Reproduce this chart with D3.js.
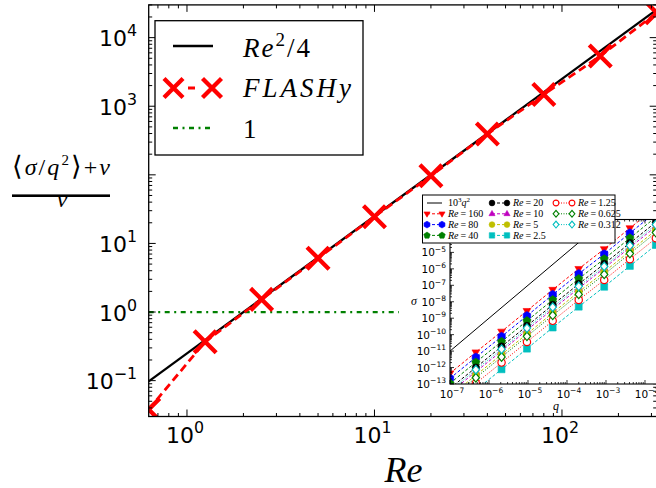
<!DOCTYPE html>
<html>
<head>
<meta charset="utf-8">
<script src="https://cdn.jsdelivr.net/npm/d3@7"></script>
<style>
  body { margin: 0; background: #fff; }
  svg { display: block; }
</style>
</head>
<body>
<svg id="chart" width="656" height="488"></svg>
<script>
// ---------- main panel data ----------
const reValues     = [0.625, 1.25, 2.5, 5, 10, 20, 40, 80, 160, 320];
const flashyValues = [0.038, 0.369, 1.53, 6.1, 24.5, 97, 395, 1480, 5400, 23000];
// Re^2/4 reference line (straight in log-log, given by its end points)
const refRe        = [0.625, 320];
const refValues    = [0.09765625, 25600];
// constant 1 line
const unityRe      = [0.625, 13.5];
const unityValues  = [1, 1];
const mainXLabels  = [1, 10, 100];
const mainYLabels  = [0.1, 1, 10, 1000, 10000];

// ---------- inset data: sigma(q) for each Re ----------
const qValues   = [1e-7, 4.6e-7, 2.1e-6, 9.4e-6, 4.3e-5, 2.0e-4, 9.0e-4, 4.1e-3, 1.9e-2];
const insetRe   = ["160", "80", "40", "20", "10", "5", "2.5", "1.25", "0.625", "0.312"];
const sigma160  = [4.5e-13, 8.5e-12, 1.55e-10, 2.8e-9, 5.4e-8, 1.0e-6, 1.6e-5, 3.0e-4, 5.6e-3];
const sigma80   = [2.2e-13, 4.2e-12, 7.7e-11, 1.4e-9, 2.7e-8, 5.0e-7, 8.0e-6, 1.5e-4, 2.8e-3];
const sigma40   = [1.1e-13, 2.1e-12, 3.8e-11, 6.9e-10, 1.3e-8, 2.5e-7, 4.0e-6, 7.4e-5, 1.4e-3];
const sigma20   = [5.4e-14, 1.0e-12, 1.9e-11, 3.4e-10, 6.5e-9, 1.2e-7, 2.0e-6, 3.7e-5, 6.8e-4];
const sigma10   = [3.0e-14, 5.6e-13, 1.0e-11, 1.9e-10, 3.5e-9, 6.6e-8, 1.1e-6, 2.0e-5, 3.7e-4];
const sigma5    = [1.8e-14, 3.4e-13, 6.2e-12, 1.1e-10, 2.1e-9, 4.0e-8, 6.5e-7, 1.2e-5, 2.2e-4];
const sigma2p5  = [2.2e-15, 4.3e-14, 7.8e-13, 1.4e-11, 2.7e-10, 5.0e-9, 8.1e-8, 1.5e-6, 2.8e-5];
const sigma1p25 = [5.8e-15, 1.1e-13, 2.0e-12, 3.6e-11, 6.9e-10, 1.3e-8, 2.1e-7, 3.9e-6, 7.2e-5];
const sigma0p625= [1.3e-14, 2.4e-13, 4.4e-12, 7.9e-11, 1.5e-9, 2.8e-8, 4.6e-7, 8.5e-6, 1.6e-4];
const sigma0p312= [3.9e-14, 7.4e-13, 1.3e-11, 2.5e-10, 4.7e-9, 8.7e-8, 1.4e-6, 2.6e-5, 4.9e-4];
const insetSigma = [sigma160, sigma80, sigma40, sigma20, sigma10, sigma5, sigma2p5, sigma1p25, sigma0p625, sigma0p312];
// 10^3 q^2 reference line end points
const insetRefQ     = [1e-7, 1e-2];
const insetRefSigma = [1e-11, 1e-1];

// ---------- styles ----------
const insetStyles = [
  { color: "#ff0000", marker: "v", dash: "3,2",   open: false },
  { color: "#0000ff", marker: "h", dash: "3,2",   open: false },
  { color: "#008000", marker: "p", dash: "3,2",   open: false },
  { color: "#000000", marker: "o", dash: "3,2",   open: false },
  { color: "#bf00bf", marker: "^", dash: "3,2",   open: false },
  { color: "#bfbf00", marker: "o", dash: "3,2",   open: false },
  { color: "#00bfbf", marker: "s", dash: "3,2",   open: false },
  { color: "#ff0000", marker: "o", dash: "1,1.5", open: true },
  { color: "#008000", marker: "D", dash: "1,1.5", open: true },
  { color: "#00bfbf", marker: "D", dash: "1,1.5", open: true }
];

const SANS = "'DejaVu Sans', 'Bitstream Vera Sans', sans-serif";
const SERIF = "'Liberation Serif', 'DejaVu Serif', serif";

const svg = d3.select("#chart");
svg.append("rect").attr("width", 656).attr("height", 488).attr("fill", "#fff");

// ---------- helpers ----------
function logTicks(lo, hi) {
  const out = [];
  for (let e = Math.floor(Math.log10(lo)) - 1; e <= Math.ceil(Math.log10(hi)); e++) {
    for (let m = 1; m < 10; m++) {
      const v = m * Math.pow(10, e);
      if (v >= lo * 0.9999 && v <= hi * 1.0001) out.push({ v, major: m === 1 });
    }
  }
  return out;
}

function drawFrameTicks(g, xs, ys, majLen, minLen, sw) {
  const [x0, x1] = xs.range();
  const [y0, y1] = ys.range(); // y0 bottom, y1 top
  const xd = xs.domain(), yd = ys.domain();
  logTicks(xd[0], xd[1]).forEach(t => {
    const px = xs(t.v), L = t.major ? majLen : minLen;
    g.append("line").attr("x1", px).attr("x2", px).attr("y1", y0).attr("y2", y0 - L)
      .attr("stroke", "#000").attr("stroke-width", sw);
    g.append("line").attr("x1", px).attr("x2", px).attr("y1", y1).attr("y2", y1 + L)
      .attr("stroke", "#000").attr("stroke-width", sw);
  });
  logTicks(yd[0], yd[1]).forEach(t => {
    const py = ys(t.v), L = t.major ? majLen : minLen;
    g.append("line").attr("x1", x0).attr("x2", x0 + L).attr("y1", py).attr("y2", py)
      .attr("stroke", "#000").attr("stroke-width", sw);
    g.append("line").attr("x1", x1).attr("x2", x1 - L).attr("y1", py).attr("y2", py)
      .attr("stroke", "#000").attr("stroke-width", sw);
  });
  g.append("rect").attr("x", x0).attr("y", y1).attr("width", x1 - x0).attr("height", y0 - y1)
    .attr("fill", "none").attr("stroke", "#000").attr("stroke-width", sw + 0.3);
}

function powLabel(g, x, y, v, size, anchor) {
  const e = Math.round(Math.log10(v));
  const t = g.append("text").attr("x", x).attr("y", y).attr("font-family", SANS)
    .attr("font-size", size).attr("text-anchor", anchor).attr("fill", "#000");
  t.append("tspan").text("10");
  t.append("tspan").attr("dy", -0.45 * size).attr("font-size", size * 0.72)
    .text(e < 0 ? "\u2212" + (-e) : String(e));
}

function markerPath(type, r) {
  const poly = pts => "M" + pts.map(p => p[0].toFixed(2) + "," + p[1].toFixed(2)).join("L") + "Z";
  const ngon = (n, rad, rot) => d3.range(n).map(i => {
    const a = rot + i * 2 * Math.PI / n;
    return [rad * Math.cos(a), rad * Math.sin(a)];
  });
  switch (type) {
    case "v": return poly([[0, r], [-0.9 * r, -0.55 * r], [0.9 * r, -0.55 * r]]);
    case "^": return poly([[0, -r], [-0.9 * r, 0.55 * r], [0.9 * r, 0.55 * r]]);
    case "s": return poly([[-0.8 * r, -0.8 * r], [0.8 * r, -0.8 * r], [0.8 * r, 0.8 * r], [-0.8 * r, 0.8 * r]]);
    case "h": return poly(ngon(6, r, -Math.PI / 2));
    case "p": return poly(ngon(5, r, -Math.PI / 2));
    case "D": return poly([[0, -r], [0.85 * r, 0], [0, r], [-0.85 * r, 0]]);
    default: {
      const rr = 0.85 * r;
      return `M${rr},0A${rr},${rr} 0 1,1 ${-rr},0A${rr},${rr} 0 1,1 ${rr},0Z`;
    }
  }
}

const defs = svg.append("defs");

// ---------- main panel ----------
const x = d3.scaleLog().domain([0.625, 320]).range([148.7, 656.7]);
const y = d3.scaleLog().domain([0.03, 3e4]).range([416.5, 4.9]);

defs.append("clipPath").attr("id", "mainClip").append("rect")
  .attr("x", x.range()[0]).attr("y", y.range()[1])
  .attr("width", x.range()[1] - x.range()[0]).attr("height", y.range()[0] - y.range()[1]);

const main = svg.append("g");
const plot = main.append("g").attr("clip-path", "url(#mainClip)");

const line = d3.line().x(d => x(d[0])).y(d => y(d[1]));

plot.append("path").datum(d3.zip(unityRe, unityValues)).attr("d", line)
  .attr("fill", "none").attr("stroke", "#008000").attr("stroke-width", 2.3)
  .attr("stroke-dasharray", "5,4.5,2,4.5");

plot.append("path").datum(d3.zip(refRe, refValues)).attr("d", line)
  .attr("fill", "none").attr("stroke", "#000").attr("stroke-width", 2.3);

plot.append("path").datum(d3.zip(reValues, flashyValues)).attr("d", line)
  .attr("fill", "none").attr("stroke", "#ff0000").attr("stroke-width", 2.8)
  .attr("stroke-dasharray", "8,4.5");

function xMark(g, cx, cy, h, sw) {
  g.append("path").attr("d", `M${cx - h},${cy - h}L${cx + h},${cy + h}M${cx - h},${cy + h}L${cx + h},${cy - h}`)
    .attr("stroke", "#ff0000").attr("stroke-width", sw).attr("fill", "none");
}
d3.zip(reValues, flashyValues).forEach(d => xMark(plot, x(d[0]), y(d[1]), 11, 4.3));

drawFrameTicks(main, x, y, 7, 3.5, 1);

mainYLabels.forEach(v => powLabel(main, 137, y(v) + 8.5, v, 22, "end"));
mainXLabels.forEach(v => powLabel(main, x(v) - 2, 443, v, 22, "middle"));

// axis titles
main.append("text").attr("x", 403.5).attr("y", 481.5).attr("text-anchor", "middle")
  .attr("font-family", SERIF).attr("font-style", "italic").attr("font-size", 36).text("Re");

const num = main.append("text").attr("x", 12).attr("y", 175).attr("font-family", SERIF)
  .attr("font-size", 24).attr("textLength", 98).attr("lengthAdjust", "spacing");
num.append("tspan").attr("font-size", 27).text("\u27E8");
num.append("tspan").attr("font-style", "italic").text("\u03C3");
num.append("tspan").text("/");
num.append("tspan").attr("font-style", "italic").text("q");
num.append("tspan").attr("dy", -10).attr("font-size", 15).text("2");
num.append("tspan").attr("dy", 10).attr("font-size", 27).text("\u27E9");
num.append("tspan").text("+");
num.append("tspan").attr("font-style", "italic").text("\u03BD");
main.append("rect").attr("x", 12).attr("y", 194.4).attr("width", 98).attr("height", 2.6).attr("fill", "#000");
main.append("text").attr("x", 62).attr("y", 206.5).attr("text-anchor", "middle").attr("font-family", SERIF)
  .attr("font-style", "italic").attr("font-size", 24).text("\u03BD");

// main legend
const leg = main.append("g");
leg.append("rect").attr("x", 155).attr("y", 20.7).attr("width", 208).attr("height", 134.3)
  .attr("fill", "#fff").attr("stroke", "#000").attr("stroke-width", 1.3);
leg.append("line").attr("x1", 173).attr("x2", 213).attr("y1", 46).attr("y2", 46)
  .attr("stroke", "#000").attr("stroke-width", 2.3);
leg.append("line").attr("x1", 173.5).attr("x2", 212).attr("y1", 88).attr("y2", 88)
  .attr("stroke", "#ff0000").attr("stroke-width", 2.8).attr("stroke-dasharray", "0,14.5,7,20");
xMark(leg, 173.5, 88, 9.5, 4.3);
xMark(leg, 212, 88, 9.5, 4.3);
leg.append("line").attr("x1", 173).attr("x2", 213).attr("y1", 128).attr("y2", 128)
  .attr("stroke", "#008000").attr("stroke-width", 2.3).attr("stroke-dasharray", "5,4.5,2,4.5");

const t1 = leg.append("text").attr("x", 243).attr("y", 56.5).attr("font-family", SERIF).attr("font-size", 27)
  .attr("textLength", 67).attr("lengthAdjust", "spacing");
t1.append("tspan").attr("font-style", "italic").text("Re");
t1.append("tspan").attr("dy", -11).attr("font-size", 19).text("2");
t1.append("tspan").attr("dy", 11).text("/4");
leg.append("text").attr("x", 243).attr("y", 96.7).attr("font-family", SERIF).attr("font-style", "italic")
  .attr("font-size", 27).attr("textLength", 108).attr("lengthAdjust", "spacing").text("FLASHy");
leg.append("text").attr("x", 243).attr("y", 138).attr("font-family", SERIF).attr("font-size", 27).text("1");

// ---------- inset ----------
const xi = d3.scaleLog().domain([1e-7, 2.73e-2]).range([450, 662]);
const yi = d3.scaleLog().domain([1e-13, 1e-3]).range([384, 219.5]);

defs.append("clipPath").attr("id", "insetClip").append("rect")
  .attr("x", xi.range()[0]).attr("y", yi.range()[1])
  .attr("width", xi.range()[1] - xi.range()[0]).attr("height", yi.range()[0] - yi.range()[1]);

const inset = svg.append("g");
inset.append("rect").attr("x", xi.range()[0]).attr("y", yi.range()[1])
  .attr("width", xi.range()[1] - xi.range()[0]).attr("height", yi.range()[0] - yi.range()[1])
  .attr("fill", "#fff");
const iplot = inset.append("g").attr("clip-path", "url(#insetClip)");
const iline = d3.line().x(d => xi(d[0])).y(d => yi(d[1]));

iplot.append("path").datum(d3.zip(insetRefQ, insetRefSigma)).attr("d", iline)
  .attr("fill", "none").attr("stroke", "#000").attr("stroke-width", 1);

insetSigma.forEach((vals, i) => {
  const st = insetStyles[i];
  iplot.append("path").datum(d3.zip(qValues, vals)).attr("d", iline)
    .attr("fill", "none").attr("stroke", st.color).attr("stroke-width", 1)
    .attr("stroke-dasharray", st.dash);
});
insetSigma.forEach((vals, i) => {
  const st = insetStyles[i];
  d3.zip(qValues, vals).forEach(d => {
    iplot.append("path").attr("d", markerPath(st.marker, 4.3))
      .attr("transform", `translate(${xi(d[0])},${yi(d[1])})`)
      .attr("fill", st.open ? "#fff" : st.color)
      .attr("stroke", st.color).attr("stroke-width", st.open ? 1.2 : 0.6);
  });
});

drawFrameTicks(inset, xi, yi, 4, 2, 0.8);

[1e-13, 1e-12, 1e-11, 1e-10, 1e-9, 1e-8, 1e-7, 1e-6, 1e-5, 1e-4, 1e-3]
  .forEach(v => powLabel(inset, 446, yi(v) + 4, v, 10.5, "end"));
[1e-7, 1e-6, 1e-5, 1e-4, 1e-3, 1e-2]
  .forEach(v => powLabel(inset, xi(v) + 2, 398, v, 10.5, "middle"));

inset.append("text").attr("x", 556).attr("y", 410).attr("text-anchor", "middle")
  .attr("font-family", SERIF).attr("font-style", "italic").attr("font-size", 12).text("q");
inset.append("text").attr("x", 414).attr("y", 305).attr("text-anchor", "middle")
  .attr("font-family", SERIF).attr("font-style", "italic").attr("font-size", 12).text("\u03C3");

// inset legend (three columns)
const ileg = svg.append("g");
ileg.append("rect").attr("x", 422.5).attr("y", 195).attr("width", 192.5).attr("height", 48)
  .attr("fill", "#fff").attr("stroke", "#000").attr("stroke-width", 1);
const rowsY = [203, 213.8, 224.6, 235.4];
const colX = [[427, 442, 448], [492, 507, 513], [556, 572, 578]];
const entries = [{ ref: true }].concat(insetRe.map((r, i) => ({ re: r, i })));
entries.forEach((en, k) => {
  const col = Math.floor(k / 4), row = k % 4;
  const [hx0, hx1, tx] = colX[col];
  const yy = rowsY[row];
  const tx_ = ileg.append("text").attr("x", tx).attr("y", yy + 3.3).attr("font-family", SERIF)
    .attr("font-size", 10);
  if (en.ref) {
    ileg.append("line").attr("x1", hx0).attr("x2", hx1).attr("y1", yy).attr("y2", yy)
      .attr("stroke", "#000").attr("stroke-width", 1);
    tx_.append("tspan").text("10");
    tx_.append("tspan").attr("dy", -4).attr("font-size", 7).text("3");
    tx_.append("tspan").attr("dy", 4).attr("font-style", "italic").text("q");
    tx_.append("tspan").attr("dy", -4).attr("font-size", 7).text("2");
  } else {
    const st = insetStyles[en.i];
    ileg.append("line").attr("x1", hx0).attr("x2", hx1).attr("y1", yy).attr("y2", yy)
      .attr("stroke", st.color).attr("stroke-width", 1).attr("stroke-dasharray", st.dash);
    [hx0, hx1].forEach(mx => {
      ileg.append("path").attr("d", markerPath(st.marker, 3.4))
        .attr("transform", `translate(${mx},${yy})`)
        .attr("fill", st.open ? "#fff" : st.color)
        .attr("stroke", st.color).attr("stroke-width", st.open ? 1.1 : 0.6);
    });
    tx_.append("tspan").attr("font-style", "italic").text("Re");
    tx_.append("tspan").text("\u2009=\u2009" + en.re);
  }
});
</script>
</body>
</html>
